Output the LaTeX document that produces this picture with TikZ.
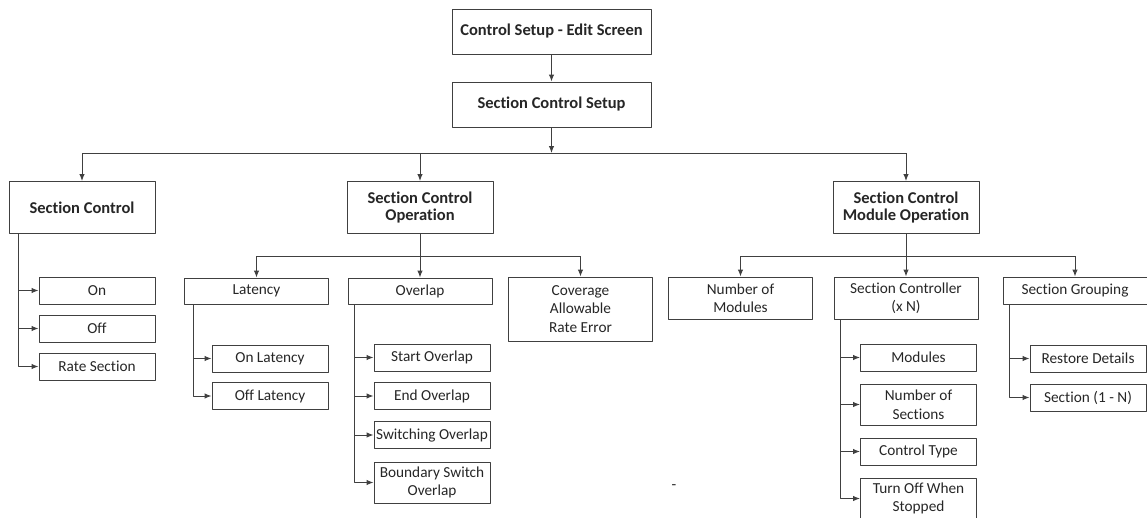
\documentclass[tikz,border=0pt]{standalone}
\usepackage{fontspec}
\setmainfont{Carlito}[Ligatures=NoCommon]
\usetikzlibrary{arrows.meta}
\definecolor{linegray}{HTML}{404040}
\definecolor{textgray}{HTML}{262626}
\begin{document}
\begin{tikzpicture}[x=1pt, y=-1pt, line join=round, >={Latex[length=7pt,width=5.5pt]},
	every node/.style={text=textgray},
	box/.style={draw=linegray, line width=1pt, align=center, inner sep=0pt, font=\fontsize{15.3}{18.5}\selectfont},
	head/.style={box, font=\fontsize{16.5}{17.5}\selectfont\bfseries},
	link/.style={draw=linegray, line width=1pt}]
	\useasboundingbox (0,0) rectangle (1147,517);
	\node[head, minimum width=199, minimum height=45] (edit) at (551.5,31.5) {Control Setup - Edit Screen};
	\node[head, minimum width=199, minimum height=45] (setup) at (551.5,104.5) {Section Control Setup};
	\foreach \n/\x/\t in {sc/82/Section Control, sco/420/Section Control\\Operation, scmo/906/Section Control\\Module Operation}
	\node[head, minimum width=146, minimum height=52] (\n) at (\x,207.5) {\t};
	\foreach \n/\x/\y/\h/\t in {lat/256.5/291/26/Latency, ovl/420/291/26/Overlap, cov/580.5/309/64/Coverage\\Allowable\\Rate Error,
		nmod/740.5/298/42/Number of\\Modules, sctl/906/298/42/Section Controller\\(x N), sgrp/1075/290.5/27/Section Grouping}
	\node[box, minimum width=144, minimum height=\h] (\n) at (\x,\y) {\t};
	\foreach \n/\x/\y/\h/\t in {on/97/290.5/27/On, off/97/328.5/27/Off, rate/97/366.5/27/Rate Section,
		onlat/270/358.5/27/On Latency, offlat/270/396/27/Off Latency,
		start/432/357.5/27/Start Overlap, end/432/396/27/End Overlap, swit/432/435/27/Switching Overlap, bound/432/482.5/41/Boundary Switch\\Overlap,
		mods/918.5/357.5/27/Modules, nsec/918.5/404.5/41/Number of\\Sections, ctype/918.5/451.5/27/Control Type, turnoff/918.5/498.5/41/Turn Off When\\Stopped,
		restore/1088/358.5/27/Restore Details, secn/1088/397.5/27/Section (1 - N)}
	\node[box, minimum width=116, minimum height=\h] (\n) at (\x,\y) {\t};
	\node[font=\fontsize{15.3}{18.5}\selectfont] (tick) at (674,487) {-};
	\path (551.5,153) coordinate (bus)
	(420,256) coordinate (opbus)
	(906,256) coordinate (modbus);
	\draw[link,->] (edit) -- (setup);
	\draw[link,->] (setup) -- (bus);
	\draw[link] (sc.north |- bus) -- (scmo.north |- bus);
	\foreach \n in {sc,sco,scmo}
	\draw[link,->] (\n.north |- bus) -- (\n);
	\draw[link] (lat.north |- opbus) -- (cov.north |- opbus);
	\draw[link] (nmod.north |- modbus) -- (sgrp.north |- modbus);
	\foreach \n in {lat,cov,nmod,sgrp}
	\draw[link,->] (\n.north |- opbus) -- (\n);
	\draw[link,->] (sco) -- (ovl);
	\draw[link,->] (scmo) -- (sctl);
	\foreach \p/\s/\n in {sc/10/on,sc/10/off,sc/10/rate,lat/9/onlat,lat/9/offlat,
		ovl/7/start,ovl/7/end,ovl/7/swit,ovl/7/bound,
		sctl/7/mods,sctl/7/nsec,sctl/7/ctype,sctl/7/turnoff,sgrp/7/restore,sgrp/7/secn}
	\draw[link,->] ([xshift=\s pt]\p.south west) |- (\n.west);
\end{tikzpicture}
\end{document}
